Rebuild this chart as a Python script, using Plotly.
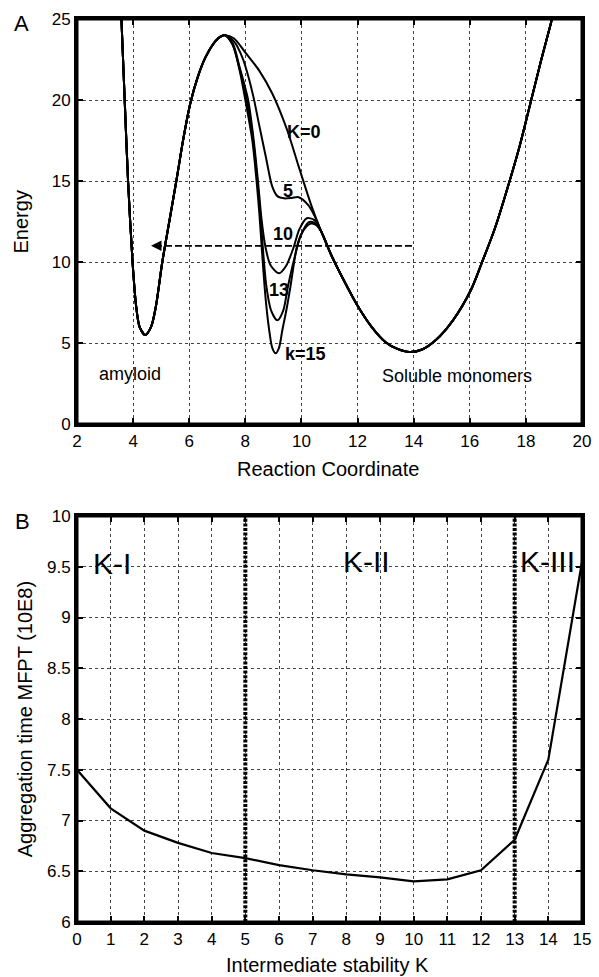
import plotly.graph_objects as go

FONT = "Liberation Sans, Arial, Helvetica, sans-serif"

# ---- Panel A: energy landscape along the reaction coordinate ----
# Shared part: amyloid well and the rising side of the main barrier
barrier_x = [3.56, 3.70, 3.82, 3.98, 4.11, 4.23, 4.43, 4.64, 4.81, 5.04, 5.29, 5.54,
             5.80, 6.04, 6.30, 6.57, 6.92, 7.10, 7.28]
barrier_y = [26.0, 20.0, 15.0, 10.0, 7.24, 6.0, 5.5, 6.0, 7.24, 10.0, 12.5, 15.0,
             17.7, 19.8, 21.4, 22.6, 23.6, 23.9, 24.0]

# Shared part: descent into the soluble-monomer well and its right wall
monomer_x = [10.70, 11.07, 11.50, 12.00, 12.50, 13.00, 13.40, 13.85, 14.30, 14.80,
             15.40, 16.04, 16.44, 16.90, 17.42, 17.80, 18.19, 18.55, 18.90, 19.10]
monomer_y = [11.9, 10.4, 8.9, 7.3, 6.0, 5.05, 4.65, 4.45, 4.6, 5.2,
             6.4, 8.27, 10.0, 12.1, 15.0, 17.3, 20.0, 22.5, 24.8, 26.3]

# Intermediate region for each stability K
k0_x = [7.60, 7.97, 8.50, 8.96, 9.49, 9.90, 10.37]
k0_y = [23.8, 23.0, 21.8, 20.4, 18.15, 15.9, 13.4]

k5_x = [7.60, 7.90, 8.10, 8.30, 8.50, 8.73, 8.96, 9.15, 9.38, 9.65, 9.90, 10.25, 10.48]
k5_y = [23.6, 22.6, 21.5, 20.1, 18.4, 16.5, 14.65, 14.05, 13.93, 13.95, 14.0, 13.5, 12.8]

k10_x = [7.55, 7.80, 8.10, 8.30, 8.45, 8.58, 8.72, 8.90, 9.20, 9.45, 9.73, 9.92, 10.19, 10.45]
k10_y = [23.5, 22.0, 20.0, 17.5, 15.0, 12.6, 10.9, 9.8, 9.3, 9.75, 10.95, 12.0, 12.7, 12.6]

k13_x = [7.55, 7.80, 8.05, 8.28, 8.43, 8.55, 8.65, 8.75, 8.92, 9.14, 9.35, 9.52,
         9.73, 9.97, 10.25, 10.47]
k13_y = [23.4, 21.9, 20.0, 17.5, 15.0, 12.6, 10.3, 8.5, 7.0, 6.4, 7.0, 8.5,
         10.1, 11.6, 12.45, 12.4]

k15_x = [7.55, 7.80, 8.00, 8.25, 8.40, 8.50, 8.60, 8.72, 8.85, 8.96, 9.08, 9.20,
         9.32, 9.47, 9.61, 9.84, 10.02, 10.30, 10.50]
k15_y = [23.4, 21.8, 20.0, 17.5, 15.0, 13.0, 10.5, 7.8, 5.8, 4.7, 4.36, 4.7,
         5.8, 7.1, 8.5, 10.95, 11.8, 12.35, 12.3]

k_segments = [(k0_x, k0_y), (k5_x, k5_y), (k10_x, k10_y), (k13_x, k13_y), (k15_x, k15_y)]

# Curve labels: text, x, y
k_labels = [("K=0", 10.08, 18.0), ("5", 9.52, 14.4), ("10", 9.35, 11.73),
            ("13", 9.21, 8.27), ("k=15", 10.16, 4.32)]
region_labels_a = [("amyloid", 3.9, 3.1), ("Soluble monomers", 15.54, 2.98)]

# Dashed transition arrow (monomer well -> amyloid well)
arrow_start = 13.94
arrow_end = 4.64
arrow_level = 11.0

# ---- Panel B: aggregation time versus intermediate stability ----
k_values = list(range(16))
mfpt = [7.50, 7.12, 6.90, 6.78, 6.68, 6.63, 6.56, 6.51, 6.47, 6.44,
        6.40, 6.42, 6.51, 6.81, 7.60, 9.55]
regime_bounds = [5, 13]
regime_labels = [("K-I", 1.05, 9.53), ("K-II", 8.61, 9.55), ("K-III", 13.98, 9.55)]

fig = go.Figure()

for sx, sy in k_segments:
    fig.add_trace(go.Scatter(
        x=barrier_x + sx + monomer_x, y=barrier_y + sy + monomer_y,
        mode="lines", line=dict(color="black", width=2, shape="spline", smoothing=0.8),
        xaxis="x", yaxis="y", showlegend=False, hoverinfo="skip"))

fig.add_trace(go.Scatter(
    x=[arrow_start, arrow_end + 0.3], y=[arrow_level, arrow_level],
    mode="lines", line=dict(color="black", width=1.8, dash="7px,3px"),
    xaxis="x", yaxis="y", showlegend=False, hoverinfo="skip"))

for b in regime_bounds:
    fig.add_trace(go.Scatter(
        x=[b, b], y=[6, 10], mode="lines",
        line=dict(color="black", width=4, dash="3px,1.6px"),
        xaxis="x2", yaxis="y2", showlegend=False, hoverinfo="skip"))

fig.add_trace(go.Scatter(
    x=k_values, y=mfpt, mode="lines", line=dict(color="black", width=2.2),
    xaxis="x2", yaxis="y2", showlegend=False, hoverinfo="skip"))

axis_style = dict(showline=True, linecolor="black", linewidth=3, mirror="allticks",
                  ticks="inside", ticklen=6, tickwidth=2, tickcolor="black",
                  showgrid=True, gridcolor="#444", griddash="dot", gridwidth=1,
                  zeroline=False, tickfont=dict(family=FONT, size=17, color="black"))

annotations = []
for text, x, y in k_labels:
    annotations.append(dict(x=x, y=y, xref="x", yref="y", text=f"<b>{text}</b>",
                            showarrow=False, font=dict(family=FONT, size=18, color="black")))
for text, x, y in region_labels_a:
    annotations.append(dict(x=x, y=y, xref="x", yref="y", text=text, showarrow=False,
                            font=dict(family=FONT, size=18, color="black")))
annotations.append(dict(x=arrow_end, y=arrow_level, ax=arrow_end + 0.4, ay=arrow_level,
                        xref="x", yref="y", axref="x", ayref="y", text="",
                        showarrow=True, arrowhead=2, arrowsize=1.3, arrowwidth=1.6,
                        arrowcolor="black"))
for text, x, y in regime_labels:
    annotations.append(dict(x=x, y=y, xref="x2", yref="y2", text=text, showarrow=False,
                            font=dict(family=FONT, size=30, color="black")))

title_font = dict(family=FONT, size=20, color="black")
centered = dict(xref="paper", yref="paper", showarrow=False,
                xanchor="center", yanchor="middle")
annotations += [
    dict(x=0.497, y=0.5017, text="Reaction Coordinate", font=title_font, **centered),
    dict(x=0.497, y=-0.0476, text="Intermediate stability K", font=title_font, **centered),
    dict(x=-0.111, y=0.7757, text="Energy", textangle=-90, font=title_font, **centered),
    dict(x=-0.103, y=0.2245, text="Aggregation time MFPT (10E8)", textangle=-90,
         font=title_font, **centered),
    dict(x=-0.109, y=0.9945, text="A", font=dict(family=FONT, size=22, color="black"),
         **centered),
    dict(x=-0.108, y=0.443, text="B", font=dict(family=FONT, size=22, color="black"),
         **centered),
]

# Heavy frame around each panel
frames = [dict(type="rect", xref=f"{xa} domain", yref=f"{ya} domain",
               x0=0, x1=1, y0=0, y1=1, line=dict(color="black", width=3),
               fillcolor="rgba(0,0,0,0)", layer="above")
          for xa, ya in (("x", "y"), ("x2", "y2"))]

fig.update_layout(
    width=599, height=977,
    margin=dict(l=77, r=8, t=19, b=55),
    paper_bgcolor="white", plot_bgcolor="white",
    xaxis=dict(domain=[0, 1], range=[2, 20], dtick=2, anchor="y", **axis_style),
    yaxis=dict(domain=[0.5515, 1], range=[0, 25], dtick=5, anchor="x", **axis_style),
    xaxis2=dict(domain=[0, 1], range=[0, 15], dtick=1, anchor="y2", **axis_style),
    yaxis2=dict(domain=[0, 0.4496], range=[6, 10], dtick=0.5, anchor="x2", **axis_style),
    annotations=annotations,
    shapes=frames,
    showlegend=False,
)

fig.write_html("out.html")
